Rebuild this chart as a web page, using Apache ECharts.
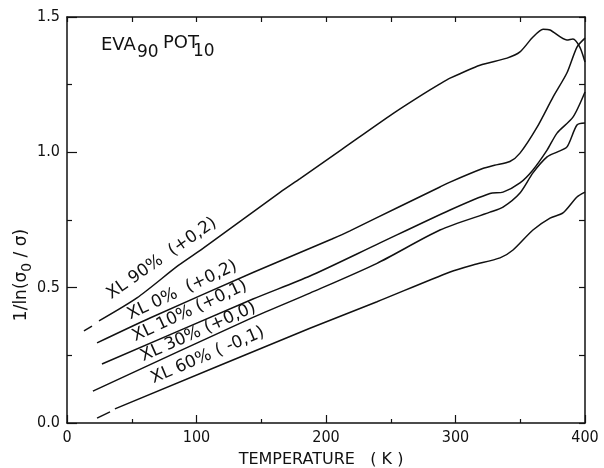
<!DOCTYPE html>
<html>
<head>
<meta charset="utf-8">
<script src="https://cdn.jsdelivr.net/npm/echarts@6.0.0/dist/echarts.min.js"></script>
</head>
<body style="margin:0;background:#fff">
<div id="main" style="width:604px;height:468px"></div>
<script>
// temperature (K) vs 1/ln(sigma0/sigma), curves shifted as in the legend
var xTicks = [0, 100, 200, 300, 400];
var yTicks = [0, 0.5, 1.0, 1.5];

var xl90Dash = [[13.1, 0.340], [19.3, 0.358]];
var xl90 = [[24.7, 0.377], [54, 0.462], [86, 0.582], [105, 0.645], [164.5, 0.852], [180, 0.903],
    [212, 1.010], [251.7, 1.143], [275, 1.215], [288, 1.253], [295.8, 1.274], [318.9, 1.322],
    [339.8, 1.348], [349.8, 1.371], [359.8, 1.426], [367.6, 1.455], [373, 1.452], [386, 1.415],
    [390.7, 1.419], [396, 1.389], [400, 1.334]];
var xl0 = [[23.2, 0.296], [64.1, 0.388], [143.6, 0.556], [180, 0.630], [204.6, 0.680],
    [218.5, 0.710], [257, 0.800], [288, 0.872], [295.8, 0.890], [321, 0.940], [330, 0.952],
    [342, 0.966], [349.8, 0.997], [363, 1.093], [375.3, 1.204], [386, 1.293], [393.8, 1.389], [400, 1.422]];
var xl10 = [[27, 0.218], [143.6, 0.458], [187.6, 0.543], [239.4, 0.660],
    [295.8, 0.787], [326.6, 0.848], [336.7, 0.853], [349.8, 0.887], [359.8, 0.935], [370.7, 1.008],
    [378.4, 1.071], [390.7, 1.130], [400, 1.223]];
var xl30 = [[20, 0.118], [143.6, 0.390], [187.6, 0.480], [239.4, 0.590], [288, 0.713],
    [326.6, 0.779], [336.7, 0.798], [349.8, 0.850], [359.8, 0.924], [370.7, 0.983],
    [378.4, 1.001], [386.1, 1.020], [393.8, 1.101], [400, 1.108]];
var xl60Dash = [[23.2, 0.018], [33.2, 0.041]];
var xl60 = [[37, 0.052], [187.6, 0.350], [239.4, 0.448], [295.8, 0.558],
    [313.5, 0.584], [334.4, 0.610], [344.4, 0.639], [359.8, 0.713], [373, 0.757], [383, 0.776],
    [393.8, 0.835], [400, 0.853]];

// curve labels: text, anchor (data coords), angle
var curveLabels = [
    ['XL 90%  (+0,2)', 36, 0.445, 35],
    ['XL 0%  (+0,2)', 50.2, 0.369, 25],
    ['XL 10% (+0,1)', 54.1, 0.288, 25],
    ['XL 30% (+0,0)', 60.2, 0.214, 24],
    ['XL 60% ( -0,1)', 68, 0.133, 23]
];

var dom = document.getElementById('main');
var myChart = echarts.init(dom, null, {renderer: 'canvas'});
var ink = '#111';
var tickFont = "'Liberation Sans Narrow', 'DejaVu Sans Condensed', 'Liberation Sans', sans-serif";
var textFont = "'DejaVu Sans', sans-serif";

function curve(data) {
    return {
        type: 'line',
        data: data,
        showSymbol: false,
        symbol: 'none',
        smooth: 0.25,
        lineStyle: {color: ink, width: 1.5},
        silent: true
    };
}

var baseAxis = {
    type: 'value',
    axisLine: {show: true, onZero: false, lineStyle: {color: ink, width: 1.5}},
    splitLine: {show: false},
    minorSplitLine: {show: false}
};

option = {
    animation: false,
    backgroundColor: '#fff',
    grid: {left: 67, right: 19, top: 17, bottom: 45, containLabel: false, outerBoundsMode: 'none'},
    xAxis: [
        echarts.util.merge({
            min: xTicks[0], max: xTicks[xTicks.length - 1], interval: 100, position: 'bottom',
            axisTick: {inside: true, length: 8, lineStyle: {color: ink, width: 1.2}},
            minorTick: {show: true, splitNumber: 2, length: 4, lineStyle: {color: ink, width: 1.2}},
            axisLabel: {color: ink, fontFamily: tickFont, fontSize: 16, margin: 7},
            name: 'TEMPERATURE   ( K )',
            nameLocation: 'middle',
            nameGap: 29,
            nameTextStyle: {color: ink, fontFamily: textFont, fontSize: 16, padding: [0, 10, 0, 0]}
        }, baseAxis, true),
        echarts.util.merge({
            min: xTicks[0], max: xTicks[xTicks.length - 1], interval: 50, position: 'top',
            axisTick: {inside: true, length: 5, lineStyle: {color: ink, width: 1.2}},
            axisLabel: {show: false}
        }, baseAxis, true)
    ],
    yAxis: [
        echarts.util.merge({
            min: yTicks[0], max: yTicks[yTicks.length - 1], interval: 0.5, position: 'left',
            axisTick: {inside: true, length: 10, lineStyle: {color: ink, width: 1.2}},
            minorTick: {show: true, splitNumber: 2, length: 5, lineStyle: {color: ink, width: 1.2}},
            axisLabel: {color: ink, fontFamily: tickFont, fontSize: 16, margin: 7,
                formatter: function (v) { return v.toFixed(1); }}
        }, baseAxis, true),
        echarts.util.merge({
            min: yTicks[0], max: yTicks[yTicks.length - 1], interval: 0.25, position: 'right',
            axisTick: {inside: true, length: 6, lineStyle: {color: ink, width: 1.2}},
            axisLabel: {show: false}
        }, baseAxis, true)
    ],
    series: [curve(xl90Dash), curve(xl90), curve(xl0), curve(xl10), curve(xl30), curve(xl60Dash), curve(xl60)]
};

myChart.setOption(option, true);

// texts placed after layout so they follow the axes
var graphics = [];
curveLabels.forEach(function (l) {
    var p = myChart.convertToPixel({gridIndex: 0}, [l[1], l[2]]);
    graphics.push({
        type: 'text', x: p[0], y: p[1], rotation: l[3] * Math.PI / 180, silent: true,
        style: {text: l[0], fill: ink, font: '17px ' + textFont, textAlign: 'left', textVerticalAlign: 'bottom'}
    });
});
graphics.push({
    type: 'text', x: 101, y: 54, silent: true,
    style: {text: 'EVA', fill: ink, font: '18px ' + textFont, textVerticalAlign: 'bottom'}
});
graphics.push({
    type: 'text', x: 137, y: 61, silent: true,
    style: {text: '90', fill: ink, font: '17px ' + textFont, textVerticalAlign: 'bottom'}
});
graphics.push({
    type: 'text', x: 163, y: 52, silent: true,
    style: {text: 'POT', fill: ink, font: '18px ' + textFont, textVerticalAlign: 'bottom'}
});
graphics.push({
    type: 'text', x: 193, y: 60, silent: true,
    style: {text: '10', fill: ink, font: '17px ' + textFont, textVerticalAlign: 'bottom'}
});
graphics.push({
    type: 'text', x: 22, y: 275, rotation: Math.PI / 2, silent: true,
    style: {
        text: '{n|1/ln(σ}{s|0}{n| / σ)}', fill: ink, textAlign: 'center', textVerticalAlign: 'middle',
        rich: {
            n: {fontFamily: textFont, fontSize: 17, lineHeight: 22, fill: ink},
            s: {fontFamily: textFont, fontSize: 14, lineHeight: 22, padding: [10, 0, 0, 0], fill: ink}
        }
    }
});
myChart.setOption({graphic: graphics});
</script>
</body>
</html>
